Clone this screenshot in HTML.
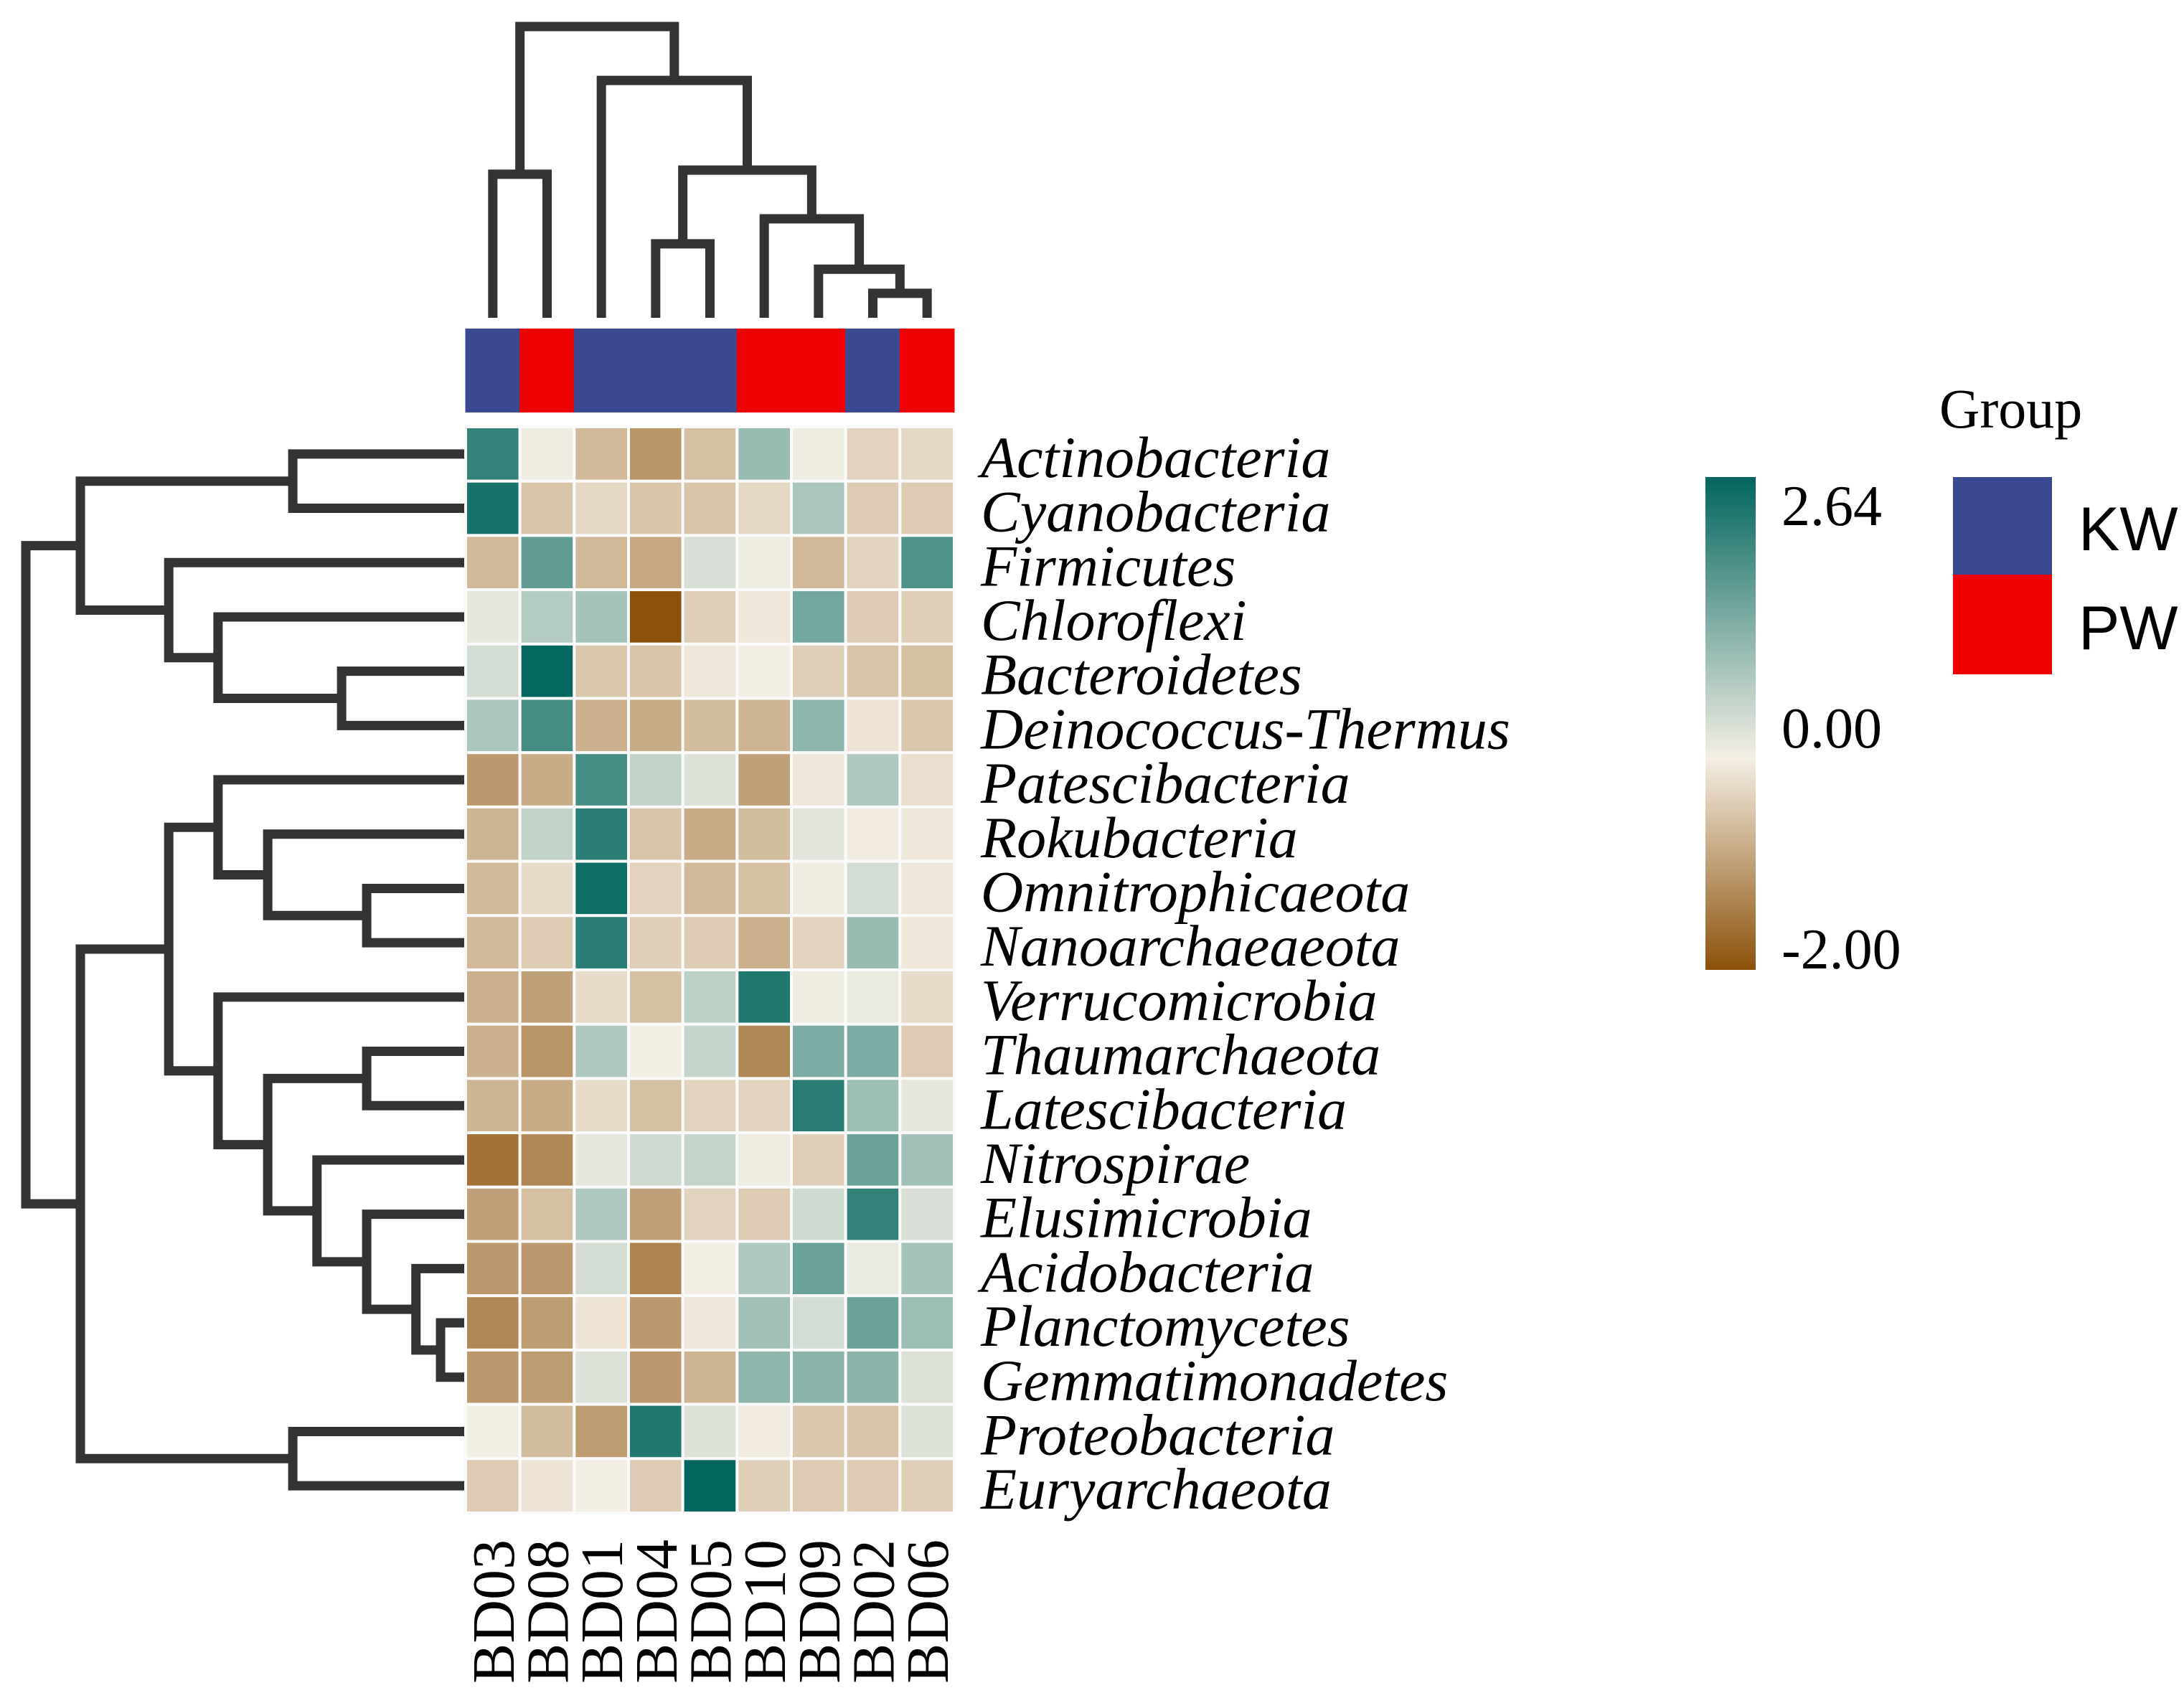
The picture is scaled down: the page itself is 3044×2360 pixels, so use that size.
<!DOCTYPE html>
<html><head><meta charset="utf-8"><title>Heatmap</title>
<style>html,body{margin:0;padding:0;background:#fff}svg{display:block}</style></head>
<body>
<svg id="chart" width="3044" height="2360" viewBox="0 0 3044 2360" xmlns="http://www.w3.org/2000/svg">
<defs>
<linearGradient id="cgrad" x1="0" y1="1" x2="0" y2="0">
<stop offset="0" stop-color="#8c510a"/><stop offset="0.4310" stop-color="#f4efe5"/><stop offset="1" stop-color="#01665e"/>
</linearGradient>
</defs>
<g id="dend-col"></g>
<g id="dend-row"></g>
<g id="annot"></g>
<g id="cells"></g>
<g id="rowlabels"></g>
<g id="collabels"></g>
<g>
<rect x="2377" y="665" width="70" height="687" fill="url(#cgrad)"/>
<text x="2483" y="732" font-family="Liberation Serif, serif" font-size="80">2.64</text>
<text x="2483" y="1042" font-family="Liberation Serif, serif" font-size="80">0.00</text>
<text x="2483" y="1350" font-family="Liberation Serif, serif" font-size="80">-2.00</text>
</g>
<g>
<text x="2703" y="596" font-family="Liberation Serif, serif" font-size="78">Group</text>
<rect x="2722" y="665" width="138" height="136" fill="#3b4990"/>
<rect x="2722" y="801" width="138" height="139" fill="#ec0000"/>
<text x="2897" y="767" font-family="Liberation Sans, sans-serif" font-size="86">KW</text>
<text x="2897" y="905" font-family="Liberation Sans, sans-serif" font-size="86">PW</text>
</g>
</svg>
<script>
const samples = ["BD03","BD08","BD01","BD04","BD05","BD10","BD09","BD02","BD06"];
const groups = ["KW","PW","KW","KW","KW","PW","PW","KW","PW"];
const taxa = ["Actinobacteria","Cyanobacteria","Firmicutes","Chloroflexi","Bacteroidetes","Deinococcus-Thermus","Patescibacteria","Rokubacteria","Omnitrophicaeota","Nanoarchaeaeota","Verrucomicrobia","Thaumarchaeota","Latescibacteria","Nitrospirae","Elusimicrobia","Acidobacteria","Planctomycetes","Gemmatimonadetes","Proteobacteria","Euryarchaeota"];
const values = [
[2.1,0.05,-0.7,-1.15,-0.6,1.0,0.05,-0.35,-0.3],
[2.4,-0.55,-0.3,-0.55,-0.55,-0.3,0.8,-0.45,-0.45],
[-0.7,1.6,-0.7,-0.9,0.3,0.05,-0.7,-0.35,1.8],
[0.15,0.7,0.85,-2.0,-0.4,-0.1,1.4,-0.45,-0.4],
[0.35,2.6,-0.5,-0.55,-0.1,0.0,-0.4,-0.55,-0.6],
[0.8,1.9,-0.8,-0.85,-0.65,-0.75,1.1,-0.15,-0.5],
[-1.1,-0.85,1.9,0.55,0.25,-1.0,-0.1,0.75,-0.2],
[-0.75,0.55,2.2,-0.55,-0.85,-0.65,0.2,-0.05,-0.1],
[-0.7,-0.25,2.5,-0.35,-0.7,-0.6,0.05,0.35,-0.1],
[-0.7,-0.45,2.2,-0.4,-0.45,-0.8,-0.35,1.0,-0.1],
[-0.8,-1.0,-0.25,-0.6,0.6,2.3,0.05,0.1,-0.25],
[-0.8,-1.15,0.75,0.0,0.5,-1.3,1.3,1.3,-0.45],
[-0.75,-0.85,-0.25,-0.6,-0.35,-0.35,2.2,0.95,0.15],
[-1.6,-1.3,0.15,0.4,0.5,0.05,-0.4,1.5,0.9],
[-1.0,-0.6,0.75,-1.0,-0.35,-0.45,0.4,2.1,0.3],
[-1.1,-1.1,0.35,-1.35,0.0,0.75,1.5,0.1,0.85],
[-1.3,-1.05,-0.15,-1.1,-0.1,0.9,0.35,1.5,0.95],
[-1.1,-1.05,0.25,-1.1,-0.75,1.1,1.15,1.15,0.25],
[0.0,-0.65,-1.05,2.3,0.25,-0.05,-0.5,-0.55,0.25],
[-0.45,-0.15,0.0,-0.45,2.64,-0.4,-0.45,-0.45,-0.4]
];
const rowMerges = [[0,1,3.93],[4,5,2.82],[3,21,5.63],[2,22,6.75],[20,23,8.76],[8,9,2.25],[7,25,4.5],[6,26,5.63],[16,17,0.57],[15,28,1.13],[14,29,2.25],[13,30,3.38],[11,12,2.25],[32,31,4.5],[10,33,5.63],[27,34,6.75],[18,19,3.93],[35,36,8.76],[24,37,10]];
const colMerges = [[0,1,4.93],[3,4,2.54],[7,8,0.84],[6,11,1.67],[5,12,3.4],[10,13,5.07],[2,14,8.15],[9,15,10]];
const scaleMin = -2.0, scaleMax = 2.64;

const NS="http://www.w3.org/2000/svg";
const X0=649, X1=1330, Y0=595, Y1=2109;
const cw=(X1-X0)/samples.length, rh=(Y1-Y0)/taxa.length;
const xC=i=>X0+(i+0.5)*cw, yC=i=>Y0+(i+0.5)*rh;
function mk(tag,attrs,parent){const e=document.createElementNS(NS,tag);for(const k in attrs)e.setAttribute(k,attrs[k]);parent.appendChild(e);return e;}
const brown=[140,81,10], mid=[244,239,229], teal=[1,102,94];
function color(v){let a,t;if(v<0){a=brown;t=Math.min(1,v/scaleMin);}else{a=teal;t=Math.min(1,v/scaleMax);}
 const c=mid.map((m,k)=>Math.round(m+(a[k]-m)*t));return `rgb(${c[0]},${c[1]},${c[2]})`;}

const cells=document.getElementById('cells');
taxa.forEach((tx,r)=>samples.forEach((s,c)=>{
 const e=mk('rect',{x:X0+c*cw,y:Y0+r*rh,width:cw,height:rh,fill:color(values[r][c]),stroke:'#fafafa','stroke-width':4},cells);
 
 
}));
const rl=document.getElementById('rowlabels');
taxa.forEach((tx,r)=>{
 const e=mk('text',{x:1367,y:yC(r)+32,'font-family':'Liberation Serif, serif','font-style':'italic','font-size':82},rl);
 e.textContent=tx;
 
 
});
const cl=document.getElementById('collabels');
samples.forEach((s,c)=>{
 const x=xC(c)+29, y=2146;
 const e=mk('text',{x:x,y:y,transform:`rotate(-90 ${x} ${y})`,'text-anchor':'end','font-family':'Liberation Serif, serif','font-size':84},cl);
 e.textContent=s;
 
 
});
const an=document.getElementById('annot');
groups.forEach((g,c)=>{
 const e=mk('rect',{x:X0+c*cw-0.5,y:458,width:cw+1,height:117,fill:g==='KW'?'#3b4990':'#ec0000'},an);
 
 
});
function dend(merges,n,leafPos,hToCoord,gid,vertical,prefix){
 const g=document.getElementById(gid);const pos=[],ht=[];
 for(let i=0;i<n;i++){pos.push(leafPos(i));ht.push(0);}
 merges.forEach((m,k)=>{
  const [a,b,h]=m;const pa=pos[a],pb=pos[b];const ca=hToCoord(ht[a]),cb=hToCoord(ht[b]),ch=hToCoord(h);
  let d;
  if(vertical) d=`M${pa},${ca} L${pa},${ch} L${pb},${ch} L${pb},${cb}`;
  else d=`M${ca},${pa} L${ch},${pa} L${ch},${pb} L${cb},${pb}`;
  const e=mk('path',{d:d,fill:'none',stroke:'#333333','stroke-width':13,'stroke-linejoin':'miter','stroke-linecap':'butt'},g);
  
  
  pos.push((pa+pb)/2);ht.push(h);
 });
}
dend(colMerges,samples.length,xC,h=>443-h*40.6,'dend-col',true,'column-dendrogram');
dend(rowMerges,taxa.length,yC,h=>649-h*61.3,'dend-row',false,'row-dendrogram');
</script>
</body></html>
